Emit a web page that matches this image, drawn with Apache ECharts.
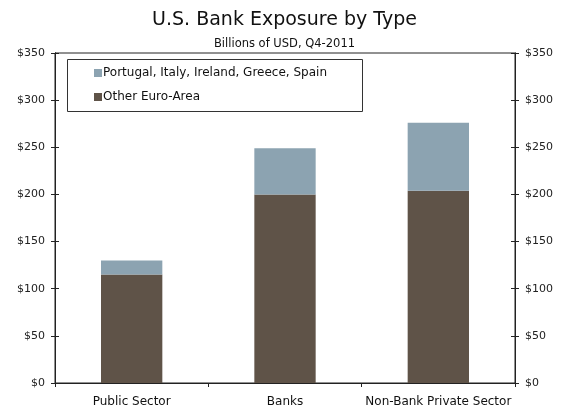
<!DOCTYPE html>
<html>
<head>
<meta charset="utf-8">
<script src="https://cdn.jsdelivr.net/npm/echarts@6/dist/echarts.min.js"></script>
<style>
  html, body { margin: 0; padding: 0; background: #fff; }
  #chart { width: 569px; height: 409px; }
</style>
</head>
<body>
<div id="chart"></div>
<script>
// Categories and stacked exposures, billions of USD
const categories = ['Public Sector', 'Banks', 'Non-Bank Private Sector'];
const otherEuroArea = [115, 200, 204];
const piigs = [15, 49, 72];
const seriesNames = ['Portugal, Italy, Ireland, Greece, Spain', 'Other Euro-Area'];
const yTicks = { min: 0, max: 350, interval: 50 };

const FONT = 'DejaVu Sans';
const AXIS_COLOR = '#222';

const chart = echarts.init(document.getElementById('chart'), null, { renderer: 'canvas' });

function yAxisDef(position, inside, showLabel) {
  return {
    type: 'value',
    position: position,
    min: yTicks.min,
    max: yTicks.max,
    interval: yTicks.interval,
    splitLine: { show: false },
    axisLine: { show: true, lineStyle: { color: AXIS_COLOR, width: 1 } },
    axisTick: { show: true, inside: inside, length: 4, lineStyle: { color: AXIS_COLOR } },
    axisLabel: {
      show: showLabel,
      margin: 10,
      fontFamily: FONT,
      fontSize: 11,
      color: '#222',
      formatter: v => '$' + v
    }
  };
}

chart.setOption({
  animation: false,
  backgroundColor: '#fff',
  title: [
    {
      text: 'U.S. Bank Exposure by Type',
      left: 'center',
      top: 6,
      textStyle: { fontFamily: FONT, fontSize: 19, fontWeight: 'normal', color: '#111' }
    },
    {
      text: 'Billions of USD, Q4-2011',
      left: 'center',
      top: 33,
      textStyle: { fontFamily: FONT, fontSize: 11.5, fontWeight: 'normal', color: '#111' }
    }
  ],
  graphic: [
    {
      type: 'rect',
      left: 67,
      top: 59,
      shape: { width: 295, height: 52 },
      style: { fill: '#fff', stroke: '#333', lineWidth: 1 },
      z: 5
    }
  ],
  legend: {
    orient: 'vertical',
    left: 89,
    top: 62,
    itemWidth: 8,
    itemHeight: 8,
    itemGap: 12,
    icon: 'rect',
    data: seriesNames,
    textStyle: { fontFamily: FONT, fontSize: 12, color: '#111', padding: [0, 0, 0, -4] },
    z: 10
  },
  grid: {
    left: 55,
    right: 54,
    top: 53,
    bottom: 26,
    show: true,
    borderColor: AXIS_COLOR,
    borderWidth: 1,
    containLabel: false
  },
  xAxis: {
    type: 'category',
    data: categories,
    axisLine: { show: true, lineStyle: { color: AXIS_COLOR } },
    axisTick: { show: true, interval: 0, length: 4, lineStyle: { color: AXIS_COLOR } },
    axisLabel: { interval: 0, margin: 13, fontFamily: FONT, fontSize: 12, color: '#111' },
    splitLine: { show: false }
  },
  yAxis: [
    yAxisDef('left', false, true),
    yAxisDef('right', false, true),
    yAxisDef('left', true, false),
    yAxisDef('right', true, false)
  ],
  series: [
    {
      name: seriesNames[1],
      type: 'bar',
      stack: 'total',
      barWidth: '40%',
      data: otherEuroArea,
      itemStyle: { color: '#5F5348' }
    },
    {
      name: seriesNames[0],
      type: 'bar',
      stack: 'total',
      barWidth: '40%',
      data: piigs,
      itemStyle: { color: '#8CA3B1' }
    }
  ]
});
</script>
</body>
</html>
